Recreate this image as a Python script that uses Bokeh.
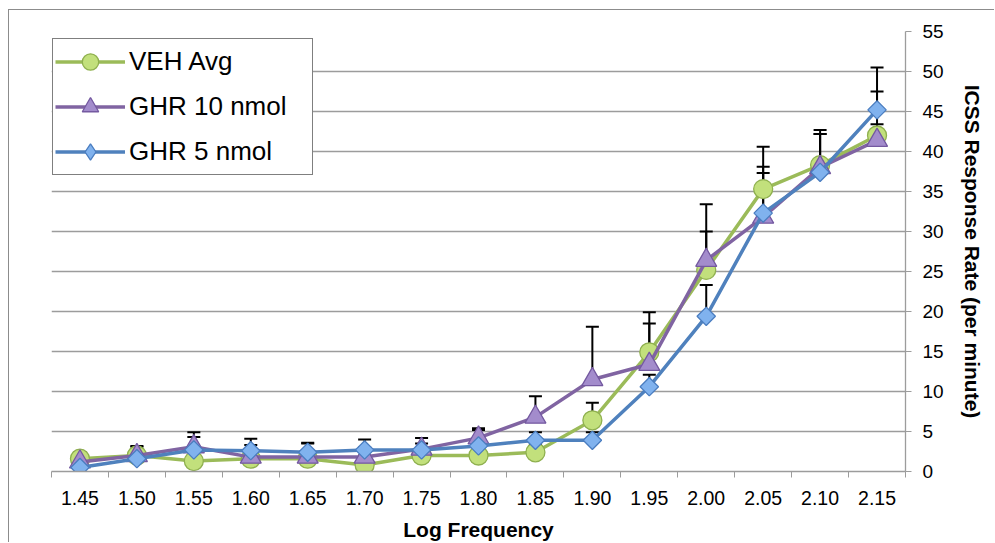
from bokeh.plotting import figure
from bokeh.models import (FixedTicker, Whisker, TeeHead, ColumnDataSource, Range1d)
from bokeh.embed import file_html
from bokeh.resources import INLINE
import numpy as np

# ---- data ----
freq_labels = ["1.45", "1.50", "1.55", "1.60", "1.65", "1.70", "1.75", "1.80",
               "1.85", "1.90", "1.95", "2.00", "2.05", "2.10", "2.15"]

veh_avg = [1.6, 2.0, 1.3, 1.6, 1.6, 0.8, 2.0, 2.0, 2.4, 6.4, 14.9, 25.2, 35.3, 38.3, 42.0]
veh_err = [0.8, 1.1, 1.5, 1.2, 1.0, 1.2, 0.8, 1.0, 1.0, 2.2, 5.0, 4.8, 5.3, 4.4, 5.5]

ghr10 = [1.2, 2.0, 3.1, 1.8, 1.8, 1.8, 2.8, 4.2, 6.8, 11.5, 13.4, 26.4, 31.8, 38.0, 41.4]
ghr10_err = [0.6, 1.2, 1.8, 1.5, 1.7, 1.2, 0.7, 1.2, 2.6, 6.6, 5.1, 7.0, 5.5, 4.2, 2.0]

ghr5 = [0.5, 1.6, 2.7, 2.6, 2.4, 2.7, 2.7, 3.2, 3.9, 3.9, 10.6, 19.4, 32.3, 37.4, 45.2]
ghr5_err = [0.5, 0.8, 1.6, 1.5, 1.2, 1.3, 1.5, 2.0, 1.0, 1.0, 1.5, 3.9, 5.8, 4.8, 5.3]

y_ticks = list(range(0, 56, 5))

n = len(freq_labels)
xc = [i + 0.5 for i in range(n)]
bounds = list(range(n + 1))

FONT = "Liberation Sans"
GRID = "#9c9c9c"

p = figure(width=986, height=533, output_backend="svg", toolbar_location=None,
           x_range=Range1d(0, n), y_range=Range1d(0, 55),
           y_axis_location="right",
           min_border_left=42, min_border_right=90,
           min_border_top=21, min_border_bottom=71)
# outer chart border: only its top-left corner lies inside the window
p.styles = {"margin-left": "8px", "margin-top": "9px",
            "border-left": "1.5px solid #8c8c8c", "border-top": "1.5px solid #8c8c8c"}
p.outline_line_color = None
p.background_fill_color = "white"
p.border_fill_color = "white"

# x axis
p.xaxis.ticker = FixedTicker(ticks=xc, minor_ticks=bounds)
p.xaxis.major_label_overrides = {x: lab for x, lab in zip(xc, freq_labels)}
p.xaxis.major_tick_line_color = None
p.xaxis.minor_tick_line_color = GRID
p.xaxis.minor_tick_out = 6
p.xaxis.minor_tick_in = 0
p.xaxis.axis_line_color = GRID
p.xaxis.axis_line_width = 1.3
p.xaxis.major_label_text_font = FONT
p.xaxis.major_label_text_font_size = "19.5px"
p.xaxis.major_label_text_color = "black"
p.xaxis.major_label_standoff = 13
p.xaxis.axis_label = "Log Frequency"
p.xaxis.axis_label_text_font = FONT
p.xaxis.axis_label_text_font_size = "21px"
p.xaxis.axis_label_text_font_style = "bold"
p.xaxis.axis_label_text_color = "black"
p.xaxis.axis_label_standoff = 10

# y axis (right)
p.yaxis.ticker = FixedTicker(ticks=y_ticks)
p.yaxis.minor_tick_line_color = None
p.yaxis.major_tick_line_color = GRID
p.yaxis.major_tick_out = 6
p.yaxis.major_tick_in = 0
p.yaxis.axis_line_color = GRID
p.yaxis.axis_line_width = 1.3
p.yaxis.major_label_text_font = FONT
p.yaxis.major_label_text_font_size = "19px"
p.yaxis.major_label_text_color = "black"
p.yaxis.major_label_standoff = 11
p.yaxis.axis_label = "ICSS Response Rate (per minute)"
p.yaxis.axis_label_text_font = FONT
p.yaxis.axis_label_text_font_size = "21px"
p.yaxis.axis_label_text_font_style = "bold"
p.yaxis.axis_label_text_color = "black"
p.yaxis.axis_label_standoff = 14

p.xgrid.grid_line_color = None
p.ygrid.ticker = FixedTicker(ticks=y_ticks)
p.ygrid.grid_line_color = GRID
p.ygrid.grid_line_width = 1.3

series = [
    ("VEH Avg", veh_avg, veh_err, "#9bbb59", "#c2e07c", "#8fb04f", "circle", 19, 0.0, "circle"),
    ("GHR 10 nmol", ghr10, ghr10_err, "#8064a2", "#a38ccc", "#7459a0", "triangle", 21, 0.0, "triangle"),
    ("GHR 5 nmol", ghr5, ghr5_err, "#4f81bd", "#80b2ee", "#4a7dc0", "square", 13, np.pi / 4, "diamond"),
]

# error bars (upper only)
for name, vals, err, lc, fc, oc, mk, sz, ang, lmk in series:
    src = ColumnDataSource(dict(x=xc, y=vals, up=[v + e for v, e in zip(vals, err)]))
    p.add_layout(Whisker(base="x", lower="y", upper="up", source=src,
                         dimension="height", line_color="black", line_width=2,
                         upper_head=TeeHead(size=13, line_color="black", line_width=2),
                         lower_head=None, level="underlay"))

for name, vals, err, lc, fc, oc, mk, sz, ang, lmk in series:
    p.line(xc, vals, line_color=lc, line_width=3.5, legend_label=name)
    p.scatter(xc, vals, marker=mk, size=sz, angle=ang, fill_color=fc,
              line_color=oc, line_width=1.3)
    # legend-only marker: one point with no y value, so nothing shows in the plot
    p.scatter(x=[xc[0]], y=[float("nan")], marker=lmk, fill_color=fc, line_color=oc,
              line_width=1.3, legend_label=name)

lg = p.legend[0]
lg.location = (1, 296)
lg.margin = 0
lg.padding = 2
lg.spacing = 4
lg.glyph_height = 41
lg.label_height = 41
lg.glyph_width = 70
lg.label_width = 181
lg.label_standoff = 4
lg.label_text_font = FONT
lg.label_text_font_size = "26px"
lg.label_text_color = "black"
lg.border_line_color = "black"
lg.border_line_width = 1.5
lg.background_fill_color = "white"
lg.background_fill_alpha = 1

open("out.html", "w").write(file_html(p, INLINE))
